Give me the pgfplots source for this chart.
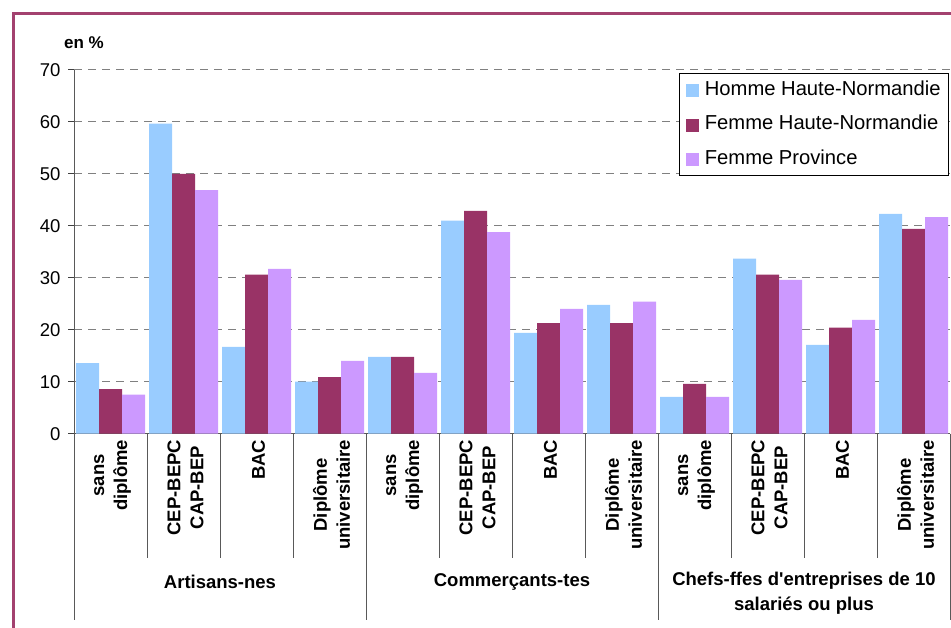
\documentclass[border=0pt]{standalone}
\usepackage{pgfplots}
\pgfplotsset{compat=1.18}
\usepackage{fontspec}
\setmainfont{Liberation Sans}[Ligatures=TeXOff]
\definecolor{cblue}{HTML}{99CCFF}
\definecolor{cmaroon}{HTML}{993366}
\definecolor{cviolet}{HTML}{CC99FF}
\definecolor{cborder}{HTML}{A3416F}
\begin{document}
\begin{tikzpicture}[x=1pt,y=1pt]
\useasboundingbox (0,0) rectangle (951,628);
\draw[cborder, line width=3pt] (13,-10) -- (13,614) -- (1000,614);
\node[font=\bfseries\fontsize{17}{19}\selectfont, anchor=center] at (84,585) {en \%};
\begin{axis}[
  at={(74pt,194.3pt)}, anchor=south west,
  scale only axis, width=876pt, height=363.7pt,
  ybar=0pt, bar width=23pt,
  xmin=-0.5, xmax=11.5, ymin=0, ymax=70,
  enlargelimits=false,
  clip=false,
  axis lines*=left,
  axis line style={draw=black!65, line width=1pt},
  ytick={0,10,...,70},
  ytick style={draw=black!75, line width=1pt},
  tick align=outside,
  major tick length=6pt,
  yticklabel style={font=\fontsize{18.5}{22}\selectfont, xshift=-4pt},
  /pgf/number format/assume math mode=true,
  ymajorgrids,
  major grid style={dash pattern=on 8pt off 6pt, draw=black!50, line width=1pt},
  xtick={0,1,...,11},
  xtick style={draw=none},
  xticklabels={{sans\\diplôme},{CEP-BEPC\\CAP-BEP},{BAC},{Diplôme\\universitaire},
               {sans\\diplôme},{CEP-BEPC\\CAP-BEP},{BAC},{Diplôme\\universitaire},
               {sans\\diplôme},{CEP-BEPC\\CAP-BEP},{BAC},{Diplôme\\universitaire}},
  xticklabel style={rotate=90, anchor=east, align=center, inner sep=0pt, yshift=-2pt,
    font=\bfseries\fontsize{18.5}{23}\selectfont},
  legend style={at={(0.999,0.992)}, anchor=north east, draw=black, line width=1pt,
    font=\fontsize{20.2}{23}\selectfont, row sep=12pt, inner xsep=6pt, inner ysep=5.5pt,
    nodes={text height=14.5pt, text depth=4pt, inner ysep=2pt, inner xsep=2pt},
    /tikz/every even column/.style={column sep=0pt}},
  legend cell align=left,
  legend image code/.code={\fill[#1] (0pt,-7pt) rectangle (13pt,6pt); \path (17pt,0pt);},
]
\addplot[draw=none, fill=cblue] coordinates {(0,13.6) (1,59.7) (2,16.7) (3,10.0) (4,14.8) (5,41.0) (6,19.4) (7,24.8) (8,7.1) (9,33.7) (10,17.1) (11,42.3)};
\addplot[draw=none, fill=cmaroon] coordinates {(0,8.6) (1,50.0) (2,30.6) (3,10.9) (4,14.8) (5,42.9) (6,21.3) (7,21.3) (8,9.6) (9,30.6) (10,20.4) (11,39.4)};
\addplot[draw=none, fill=cviolet] coordinates {(0,7.5) (1,46.9) (2,31.7) (3,14.0) (4,11.7) (5,38.8) (6,24.0) (7,25.4) (8,7.1) (9,29.6) (10,21.9) (11,41.7)};
\legend{Homme Haute-Normandie, Femme Haute-Normandie, Femme Province}
% separators
\draw[black!65, line width=1pt] (axis cs:0.5,0) -- ++(0pt,-124pt);
\draw[black!65, line width=1pt] (axis cs:1.5,0) -- ++(0pt,-124pt);
\draw[black!65, line width=1pt] (axis cs:2.5,0) -- ++(0pt,-124pt);
\draw[black!65, line width=1pt] (axis cs:4.5,0) -- ++(0pt,-124pt);
\draw[black!65, line width=1pt] (axis cs:5.5,0) -- ++(0pt,-124pt);
\draw[black!65, line width=1pt] (axis cs:6.5,0) -- ++(0pt,-124pt);
\draw[black!65, line width=1pt] (axis cs:8.5,0) -- ++(0pt,-124pt);
\draw[black!65, line width=1pt] (axis cs:9.5,0) -- ++(0pt,-124pt);
\draw[black!65, line width=1pt] (axis cs:10.5,0) -- ++(0pt,-124pt);
\draw[black!65, line width=1pt] (axis cs:-0.5,0) -- ++(0pt,-186pt);
\draw[black!65, line width=1pt] (axis cs:3.5,0) -- ++(0pt,-186pt);
\draw[black!65, line width=1pt] (axis cs:7.5,0) -- ++(0pt,-186pt);
\draw[black!65, line width=1pt] (axis cs:11.5,0) -- ++(0pt,-186pt);
\node[font=\bfseries\fontsize{18.5}{25}\selectfont, anchor=center] at (axis cs:1.5,0) [yshift=-148pt] {Artisans-nes};
\node[font=\bfseries\fontsize{18.5}{25}\selectfont, anchor=center] at (axis cs:5.5,0) [yshift=-148pt] {Commerçants-tes};
\node[font=\bfseries\fontsize{18.5}{25}\selectfont, anchor=center, align=center] at (axis cs:9.5,0) [yshift=-160pt] {Chefs-ffes d'entreprises de 10\\salariés ou plus};
\end{axis}
\end{tikzpicture}
\end{document}
